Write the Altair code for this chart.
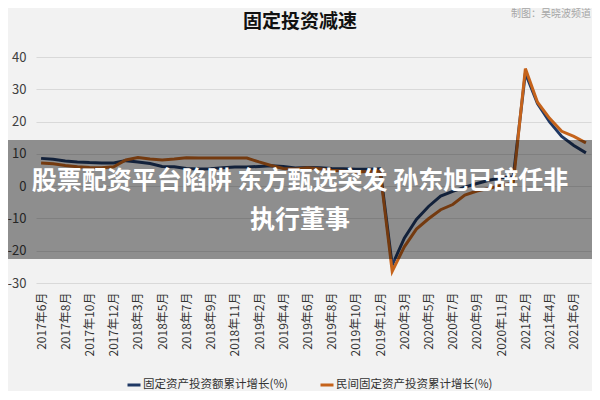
import altair as alt
import pandas as pd

FONT = "Noto Sans CJK SC"

months = [
    "2017年6月", "2017年7月", "2017年8月", "2017年9月", "2017年10月", "2017年11月", "2017年12月",
    "2018年2月", "2018年3月", "2018年4月", "2018年5月", "2018年6月", "2018年7月", "2018年8月",
    "2018年9月", "2018年10月", "2018年11月", "2018年12月",
    "2019年2月", "2019年3月", "2019年4月", "2019年5月", "2019年6月", "2019年7月", "2019年8月",
    "2019年9月", "2019年10月", "2019年11月", "2019年12月",
    "2020年2月", "2020年3月", "2020年4月", "2020年5月", "2020年6月", "2020年7月", "2020年8月",
    "2020年9月", "2020年10月", "2020年11月", "2020年12月",
    "2021年2月", "2021年3月", "2021年4月", "2021年5月", "2021年6月", "2021年7月",
]

fai_growth = [
    8.6, 8.3, 7.8, 7.5, 7.3, 7.2, 7.2,
    7.9, 7.5, 7.0, 6.1, 6.0, 5.5, 5.3, 5.4, 5.7, 5.9, 5.9,
    6.1, 6.3, 6.1, 5.6, 5.8, 5.7, 5.5, 5.4, 5.2, 5.2, 5.4,
    -24.5, -16.1, -10.3, -6.3, -3.1, -1.6, -0.3, 0.8, 1.8, 2.6, 2.9,
    35.0, 25.6, 19.9, 15.4, 12.6, 10.3,
]

private_growth = [
    7.2, 6.9, 6.4, 6.0, 5.8, 5.7, 6.0,
    8.1, 8.9, 8.4, 8.1, 8.4, 8.8, 8.7, 8.7, 8.7, 8.7, 8.7,
    7.5, 6.4, 5.5, 5.3, 5.7, 5.4, 4.9, 4.7, 4.4, 4.5, 4.7,
    -26.4, -18.8, -13.3, -10.1, -7.3, -5.7, -2.8, -1.5, -0.7, 0.2, 1.0,
    36.4, 26.0, 21.0, 17.0, 15.4, 13.4,
]

tick_labels = [
    "2017年6月", "2017年8月", "2017年10月", "2017年12月", "2018年3月", "2018年5月",
    "2018年7月", "2018年9月", "2018年11月", "2019年2月", "2019年4月", "2019年6月",
    "2019年8月", "2019年10月", "2019年12月", "2020年3月", "2020年5月", "2020年7月",
    "2020年9月", "2020年11月", "2021年2月", "2021年4月", "2021年6月",
]

y_ticks = [-30, -20, -10, 0, 10, 20, 30, 40]

series_names = ["固定资产投资额累计增长(%)", "民间固定资产投资累计增长(%)"]
series_colors = ["#1f3864", "#c5631b"]

chart_title = "固定投资减速"
credit = "制图：吴晓波频道"
banner_line1 = "股票配资平台陷阱 东方甄选突发 孙东旭已辞任非"
banner_line2 = "执行董事"

n = len(months)
df = pd.DataFrame({
    "month": months * 2,
    "value": fai_growth + private_growth,
    "series": [series_names[0]] * n + [series_names[1]] * n,
})

x_enc = alt.X(
    "month:N",
    sort=months,
    scale=alt.Scale(type="point", padding=0.42),
    axis=alt.Axis(
        values=tick_labels, labelAngle=270, labelFontSize=12, labelPadding=9,
        labelFont=FONT, labelColor="#333333", ticks=False, tickSize=0,
        domain=False, grid=False, title=None, labelOverlap=False,
    ),
)
y_enc = alt.Y(
    "value:Q",
    scale=alt.Scale(domain=[-30, 40], nice=False, zero=False),
    axis=alt.Axis(
        values=y_ticks, grid=True, gridColor="#d9d9d9", gridWidth=1,
        domain=False, ticks=False, tickSize=0, labelPadding=10,
        labelFontSize=13, labelFont=FONT, labelColor="#404040",
        labelExpr="'' + datum.value", title=None,
    ),
)
color_enc = alt.Color(
    "series:N",
    scale=alt.Scale(domain=series_names, range=series_colors),
    legend=alt.Legend(
        orient="none", legendX=90, legendY=320, direction="horizontal",
        title=None, symbolType="stroke", symbolStrokeWidth=3, symbolSize=169,
        labelFontSize=11.5, labelFont=FONT, labelColor="#333333",
        columnPadding=26, labelOffset=1,
    ),
)

base = alt.Chart(df)
line_a = base.transform_filter(alt.datum.series == series_names[0]).mark_line(
    strokeWidth=3).encode(x=x_enc, y=y_enc, color=color_enc)
line_b = base.transform_filter(alt.datum.series == series_names[1]).mark_line(
    strokeWidth=3).encode(x=x_enc, y=y_enc, color=color_enc)

title_layer = alt.Chart(pd.DataFrame({"t": [chart_title]})).mark_text(
    font=FONT, fontSize=19, fontWeight="bold", color="#111111",
    align="center", baseline="middle",
).encode(x=alt.value(264), y=alt.value(-35), text="t:N")

credit_layer = alt.Chart(pd.DataFrame({"t": [credit]})).mark_text(
    font=FONT, fontSize=10, color="#a6a6a6", align="right", baseline="middle",
).encode(x=alt.value(555), y=alt.value(-43), text="t:N")

band = alt.Chart(pd.DataFrame({"a": [0]})).mark_rect(
    color="#000000", opacity=0.41,
).encode(x=alt.value(-40), x2=alt.value(600), y=alt.value(83), y2=alt.value(202))

banner1 = alt.Chart(pd.DataFrame({"t": [banner_line1]})).mark_text(
    font=FONT, fontSize=25, fontWeight="bold", color="#ffffff",
    align="center", baseline="middle",
).encode(x=alt.value(264), y=alt.value(124), text="t:N")

banner2 = alt.Chart(pd.DataFrame({"t": [banner_line2]})).mark_text(
    font=FONT, fontSize=25, fontWeight="bold", color="#ffffff",
    align="center", baseline="middle",
).encode(x=alt.value(264), y=alt.value(163), text="t:N")

chart = alt.layer(
    line_a, line_b, title_layer, credit_layer, band, banner1, banner2
).properties(
    width=555, height=226,
    padding={"left": 28, "top": 49, "right": 1, "bottom": 108},
    autosize=alt.AutoSizeParams(type="none"),
    background="#f2f2f2",
).configure_view(stroke=None)

chart.save("out.html", embed_options={"renderer": "svg", "actions": False})
